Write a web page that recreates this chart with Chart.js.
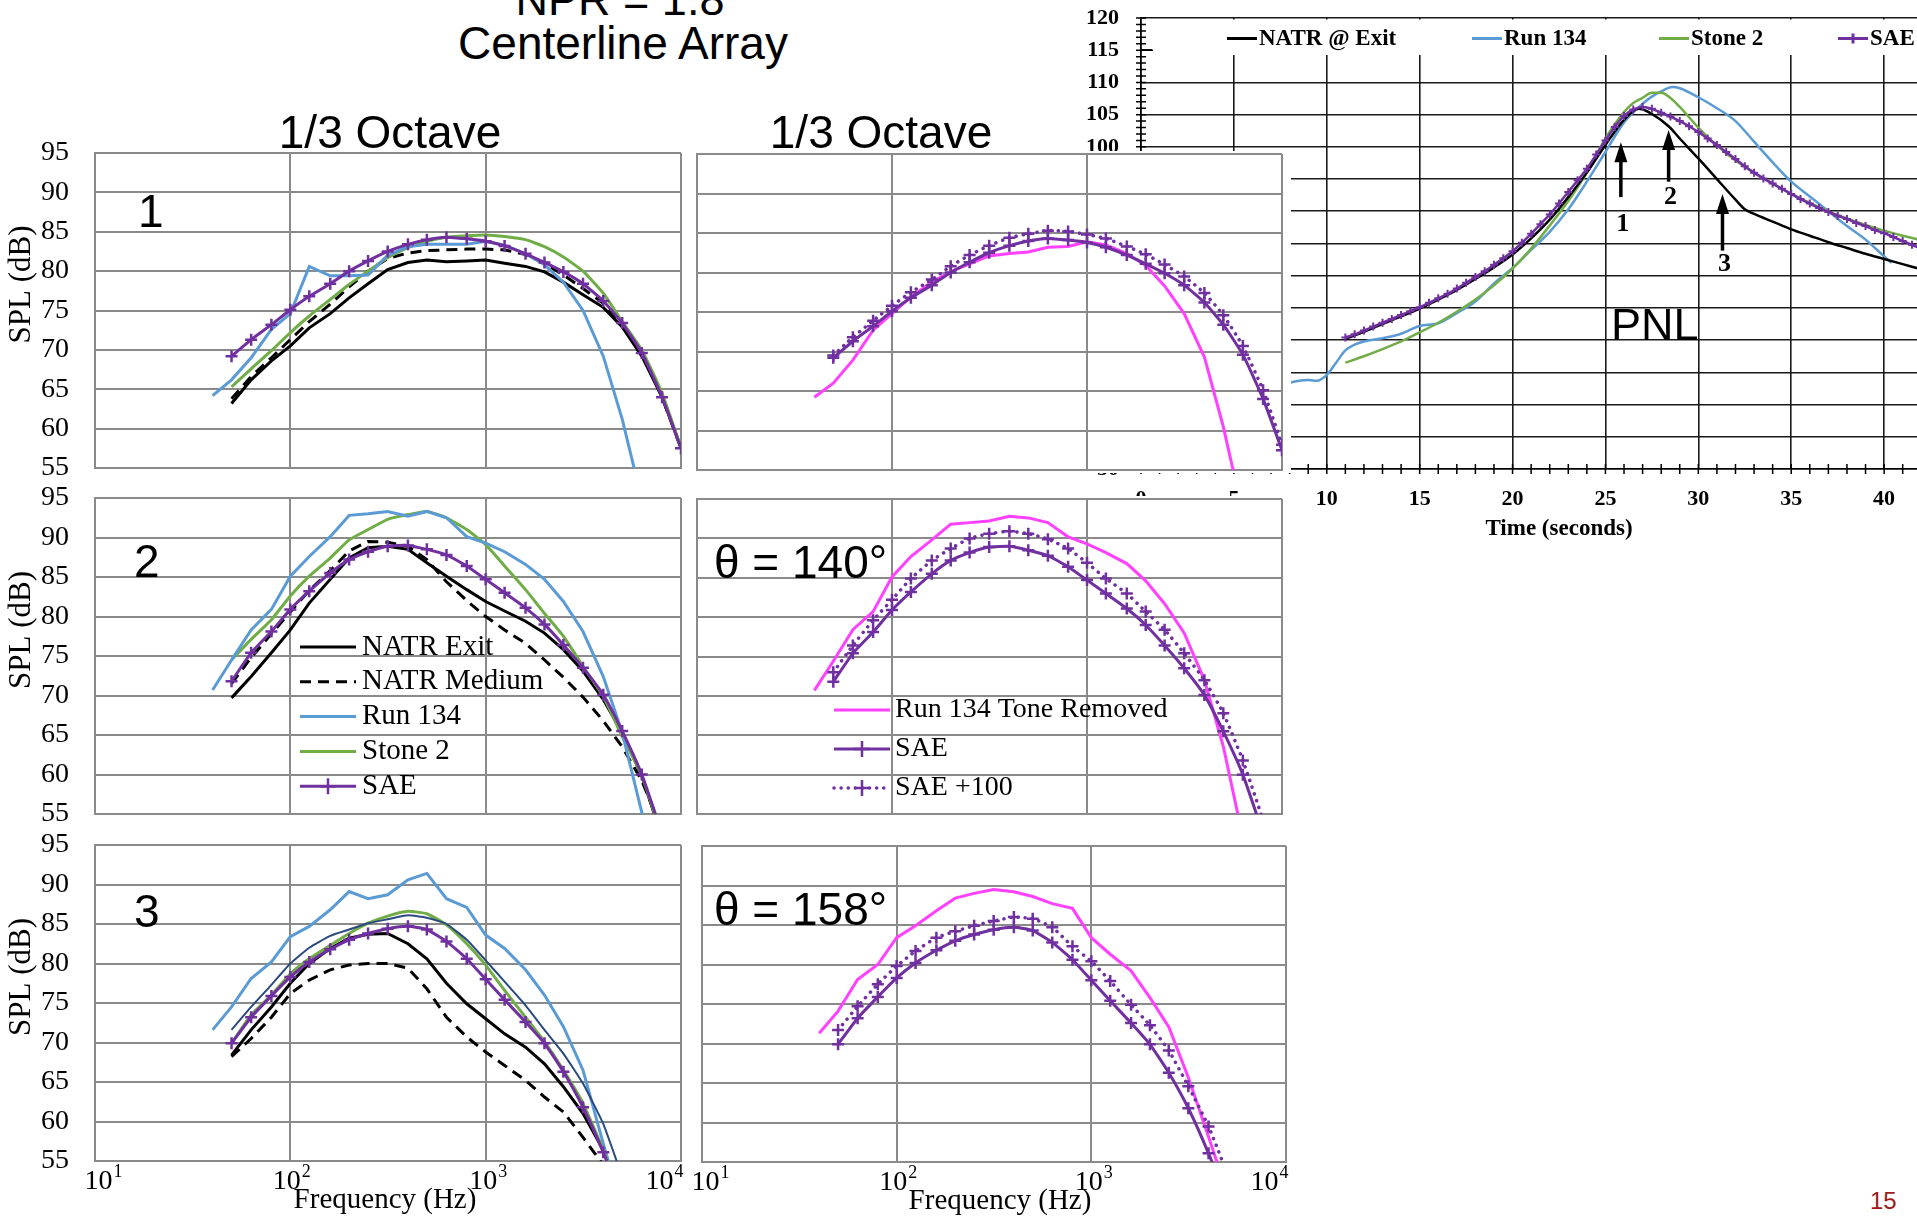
<!DOCTYPE html>
<html>
<head>
<meta charset="utf-8">
<title>NPR = 1.8 Centerline Array</title>
<script src="https://cdn.jsdelivr.net/npm/chart.js@4.4.1/dist/chart.umd.min.js"></script>
<style>
  html, body { margin: 0; padding: 0; background: #fff; overflow: hidden; }
  #page { position: relative; width: 1917px; height: 1217px; overflow: hidden; background: #fff; }
  canvas { position: absolute; }
  .txt { position: absolute; white-space: nowrap; line-height: 1; color: #000; z-index: 5;
         font-family: "Liberation Sans", Arial, sans-serif; }
</style>
</head>
<body>
<div id="page">
  <canvas id="pnl" width="1000" height="560" style="left:1040px;top:0px;z-index:1"></canvas>
  <canvas id="p1" width="692" height="351" style="left:0px;top:135px;z-index:2"></canvas>
  <canvas id="p2" width="607" height="352" style="left:687px;top:136px;z-index:2"></canvas>
  <canvas id="p3" width="692" height="352" style="left:0px;top:480px;z-index:2"></canvas>
  <canvas id="p4" width="607" height="351" style="left:687px;top:481px;z-index:2"></canvas>
  <canvas id="p5" width="692" height="394" style="left:0px;top:827px;z-index:2"></canvas>
  <canvas id="p6" width="606" height="394" style="left:692px;top:828px;z-index:2"></canvas>

  <div class="txt" style="left:620px;top:-23px;font-size:45px;transform:translateX(-50%)">NPR = 1.8</div>
  <div class="txt" style="left:623px;top:20px;font-size:46px;transform:translateX(-50%)">Centerline Array</div>
  <div class="txt" style="left:390px;top:109px;font-size:46px;transform:translateX(-50%)">1/3 Octave</div>
  <div class="txt" style="left:881px;top:109px;font-size:46px;transform:translateX(-50%)">1/3 Octave</div>
  <div class="txt" style="left:1870px;top:1189px;font-size:24px;color:#9b1b1b">15</div>
</div>

<script>
const SERIF = '"Liberation Serif", "Times New Roman", serif';
const SANS = '"Liberation Sans", Arial, sans-serif';
const BLUE = '#5b9bd5';
const GREEN = '#70ad47';
const PURPLE = '#7030a0';
const MAGENTA = '#ff40ff';
const NAVY = '#2a4a7f';
const GRID = '#8a8a8a';

// 1/3-octave band centres (Hz) and the decade ticks of the frequency axis
const BANDS = [40, 50, 63, 80, 100, 125, 160, 200, 250, 315, 400, 500, 630,
               800, 1000, 1250, 1600, 2000, 2500, 3150, 4000, 5000, 6300, 8000, 10000];
const DECADES = [10, 100, 1000, 10000];
const DECADE_SHIFT = [8, 1, 2, -17];

// point 1
const exit1   = [null, 63.2, 66.2, 68.6, 70.5, 72.8, 74.6, 76.6, 78.4, 80.2, 81.1, 81.4, 81.2, 81.3, 81.4, 81.0, 80.6, 79.9, 78.6, 77.0, 75.4, 72.9, 69.2, 64.0, 57.6];
const medium1 = [null, 63.8, 66.6, 69.0, 71.3, 73.6, 75.8, 78.0, 80.0, 81.6, 82.3, 82.6, 82.7, 82.8, 82.8, 82.7, 82.1, 81.0, 79.5, 77.8, 75.9, 73.2, 69.6, 64.0, 57.5];
const run1    = [64.2, 66.2, 69.0, 72.6, 74.6, 80.6, 79.4, 79.4, 79.5, 82.0, 83.1, 83.4, 83.4, 83.4, 83.8, 83.3, 82.2, 80.8, 78.6, 75.0, 69.2, 61.2, 51.0, null, null];
const stone1  = [null, 65.3, 67.6, 69.9, 72.2, 74.3, 76.4, 78.3, 80.0, 81.7, 83.0, 83.8, 84.3, 84.5, 84.6, 84.4, 84.0, 83.1, 81.8, 80.0, 77.2, 73.6, 70.0, 64.5, 57.6];
const sae1    = [null, 69.2, 71.3, 73.2, 75.1, 76.8, 78.4, 80.0, 81.3, 82.5, 83.4, 84.0, 84.3, 84.1, 83.8, 83.2, 82.2, 81.1, 79.9, 78.4, 76.2, 73.4, 69.6, 64.0, 57.5];
const tone1   = [64.2, 66.0, 68.9, 72.7, 74.8, 76.9, 78.8, 80.1, 81.1, 82.1, 82.4, 82.6, 83.2, 83.3, 83.9, 83.5, 82.4, 80.9, 78.3, 74.8, 69.3, 60.5, 49.5, null, null];
const saePlus1 = [null, 69.5, 71.8, 73.9, 75.8, 77.5, 79.1, 80.8, 82.2, 83.4, 84.4, 84.9, 85.3, 85.2, 84.8, 84.3, 83.3, 82.3, 81.0, 79.5, 77.4, 74.6, 70.7, 65.1, 58.2];

// point 2, theta = 140 deg
const exit2   = [null, 69.7, 72.4, 75.4, 78.3, 81.7, 84.7, 87.4, 88.7, 88.9, 88.5, 86.8, 85.1, 83.4, 81.9, 80.7, 79.4, 77.9, 75.8, 73.1, 69.5, 65.3, 59.8, 52.0, null];
const medium2 = [null, 71.5, 74.8, 77.8, 80.6, 83.3, 85.8, 88.3, 89.5, 89.4, 88.9, 87.2, 84.4, 82.0, 80.0, 78.3, 76.6, 74.5, 72.3, 69.8, 66.8, 63.5, 59.2, 53.0, null];
const run2    = [70.7, 74.5, 78.3, 80.9, 85.1, 87.6, 90.1, 92.8, 93.0, 93.3, 92.7, 93.3, 92.5, 90.1, 89.3, 88.2, 86.6, 84.7, 81.9, 78.1, 72.4, 65.3, 55.2, 45.0, null];
const stone2  = [null, 74.5, 77.1, 79.6, 82.6, 85.1, 87.4, 89.7, 91.0, 92.3, 92.9, 93.3, 92.5, 91.0, 89.1, 86.4, 83.4, 80.4, 77.5, 73.7, 69.9, 64.8, 59.9, 52.0, null];
const sae2    = [null, 71.8, 75.4, 78.1, 80.9, 83.2, 85.5, 87.2, 88.2, 88.9, 89.0, 88.5, 87.8, 86.4, 84.7, 83.0, 81.1, 79.0, 76.4, 73.5, 70.1, 65.5, 60.0, 52.5, null];
const tone2   = [70.7, 74.4, 78.4, 80.7, 85.1, 87.7, 89.8, 91.8, 92.0, 92.2, 92.8, 92.6, 92.0, 90.2, 89.3, 88.2, 86.8, 84.6, 81.7, 78.0, 72.0, 63.6, 52.0, null, null];
const saePlus2 = [null, 73.0, 76.4, 79.6, 82.2, 84.9, 87.2, 88.7, 90.0, 90.6, 90.9, 90.6, 89.9, 88.7, 86.9, 84.9, 83.0, 80.7, 78.4, 75.4, 72.0, 67.8, 61.8, 54.2, null];

// point 3, theta = 158 deg
const exit3   = [null, 68.4, 71.6, 74.5, 77.5, 80.0, 81.9, 83.2, 83.7, 83.8, 82.5, 80.6, 77.5, 74.9, 73.0, 71.1, 69.4, 67.3, 64.4, 61.0, 56.4, 50.0, null, null, null];
const medium3 = [null, 68.2, 70.5, 73.2, 76.2, 77.9, 79.2, 79.8, 80.0, 80.0, 79.4, 76.8, 73.2, 70.7, 68.8, 67.1, 65.2, 63.1, 61.2, 58.0, 54.5, 49.0, null, null, null];
const run3    = [71.6, 74.5, 78.1, 80.2, 83.4, 84.7, 86.8, 89.1, 88.2, 88.7, 90.6, 91.4, 88.2, 87.1, 83.6, 81.9, 79.2, 76.0, 72.0, 66.5, 57.2, 49.0, null, null, null];
const stone3  = [null, 69.9, 73.5, 76.0, 78.7, 80.6, 82.3, 83.8, 85.1, 86.0, 86.6, 86.3, 84.9, 82.5, 79.8, 76.6, 73.2, 70.1, 66.5, 62.3, 56.4, 50.0, null, null, null];
const navy3   = [null, 71.6, 74.5, 77.3, 80.0, 82.0, 83.5, 84.3, 85.1, 85.6, 86.1, 85.8, 85.0, 83.0, 80.4, 77.7, 74.7, 71.6, 68.6, 64.8, 59.7, 53.0, null, null, null];
const sae3    = [null, 69.9, 73.2, 75.9, 78.3, 80.2, 81.8, 83.0, 83.8, 84.4, 84.7, 84.3, 82.8, 80.6, 78.0, 75.4, 72.6, 69.9, 66.3, 61.8, 56.1, 50.0, null, null, null];
const tone3   = [71.3, 74.1, 78.1, 80.0, 83.4, 84.9, 86.8, 88.4, 89.0, 89.5, 89.2, 88.6, 87.7, 87.1, 83.4, 81.3, 79.2, 75.8, 72.1, 65.7, 58.2, 51.0, null, null, null];
const saePlus3 = [null, 71.7, 74.7, 77.5, 79.8, 81.7, 83.4, 84.2, 84.9, 85.5, 86.0, 85.8, 84.7, 82.3, 80.4, 77.9, 74.9, 72.3, 69.1, 64.6, 59.5, 53.5, null, null, null];

// PNL time histories
const pnlSaeT = [11, 11.5, 12, 12.5, 13, 13.5, 14, 14.5, 15, 15.5, 16, 16.5, 17, 17.5, 18, 18.5, 19, 19.5, 20, 20.5,
                 21, 21.5, 22, 22.5, 23, 23.5, 24, 24.5, 25, 25.5, 26, 26.5, 27, 27.5, 28, 28.5, 29, 29.5, 30, 30.5,
                 31, 31.5, 32, 32.5, 33, 33.5, 34, 34.5, 35, 35.5, 36, 36.5, 37, 37.5, 38, 38.5, 39, 39.5, 40, 40.5,
                 41, 41.5, 42];
const pnlSae = [70.4, 70.9, 71.5, 72.1, 72.7, 73.3, 73.9, 74.5, 75.1, 75.8, 76.5, 77.2, 78.0, 78.9, 79.8, 80.7, 81.7, 82.7, 83.8, 85.1,
                86.5, 88.0, 89.5, 91.2, 93.0, 94.8, 96.6, 98.8, 101.0, 103.1, 104.8, 105.8, 106.2, 105.9, 105.3, 104.7, 104.0, 103.2, 102.3, 101.3,
                100.3, 99.2, 98.1, 97.0, 96.0, 95.1, 94.3, 93.5, 92.7, 91.9, 91.2, 90.5, 89.9, 89.3, 88.8, 88.2, 87.7, 87.1, 86.6, 86.0,
                85.4, 84.8, 84.2];
const pnlExitT = [11, 12, 13, 14, 15, 16, 17, 18, 19, 20, 21, 22, 23, 24, 25, 26, 26.8, 27.5, 28.4, 29,
                  30, 31, 32, 32.5, 33, 34, 35, 36, 37, 38, 39, 40, 41, 42];
const pnlExit = [70.2, 71.3, 72.5, 73.7, 74.9, 76.3, 77.8, 79.5, 81.3, 83.3, 85.8, 88.7, 92.2, 96.0, 100.3, 104.2, 105.9, 105.1, 103.2, 101.3,
                 98.2, 95.0, 91.8, 90.3, 89.6, 88.4, 87.2, 86.2, 85.2, 84.3, 83.4, 82.6, 81.8, 81.0];
const pnlStoneT = [11, 12, 13, 14, 15, 16, 17, 18, 19, 20, 21, 22, 23, 24, 25, 26, 26.5, 27, 27.5, 28, 28.5, 29,
                   30, 31, 32, 33, 34, 35, 36, 37, 38, 39, 40, 41, 42];
const pnlStone = [66.5, 67.5, 68.6, 69.8, 71.2, 72.7, 74.4, 76.3, 78.5, 81.1, 84.2, 87.8, 91.6, 96.0, 101.3, 105.4, 106.8, 107.6, 108.4, 108.4, 107.6, 106.2,
                  103.0, 100.2, 97.9, 96.0, 94.3, 92.7, 91.3, 90.0, 88.9, 87.9, 87.0, 86.2, 85.5];
const pnlRunT = [8, 8.5, 9, 9.5, 10, 10.5, 11, 11.5, 12, 13, 14, 15, 16, 17, 18, 19, 20, 21, 22, 23, 24, 25, 26, 27,
                 27.5, 28, 28.6, 29, 30, 31, 32, 33, 34, 35, 36, 37, 38, 39, 40, 40.4];
const pnlRun = [63.4, 63.7, 63.8, 63.7, 64.6, 66.5, 68.4, 69.3, 69.8, 70.3, 71.0, 72.2, 72.6, 74.2, 76.0, 78.8, 81.2, 84.0, 86.8, 90.3, 94.6, 99.2, 103.8, 106.7,
                107.8, 108.6, 109.3, 109.1, 107.7, 106.0, 104.0, 100.8, 97.6, 94.6, 92.3, 90.0, 87.7, 85.6, 83.0, 82.0];

// arrows marking the three spectra on the PNL curve
const arrowTime = [25.83, 28.4, 31.3];
const arrowFrom = [92.2, 94.6, 83.9];
const arrowTo = [100.7, 102.6, 92.7];
const arrowText = ['1', '2', '3'];
const arrowTextAt = [88.0, 92.2, 81.7];

const pnlKeys = ['NATR @ Exit', 'Run 134', 'Stone 2', 'SAE'];
const pnlKeyColors = ['#000000', BLUE, GREEN, PURPLE];
const pnlKeyX = [86, 331, 518, 697];

function series(vals) {
  return BANDS.map((f, i) => ({ x: f, y: vals[i] })).filter(p => p.y !== null);
}
function pts(ts, vs) {
  return ts.map((t, i) => ({ x: t, y: vs[i] }));
}

const S_EXIT = { borderColor: '#000000', borderWidth: 3 };
const S_MED = { borderColor: '#000000', borderWidth: 3, borderDash: [11, 7] };
const S_RUN = { borderColor: BLUE, borderWidth: 3 };
const S_STONE = { borderColor: GREEN, borderWidth: 3, tension: 0.15 };
const S_NAVY = { borderColor: NAVY, borderWidth: 2, tension: 0.15 };
const S_TONE = { borderColor: MAGENTA, borderWidth: 3 };
const S_SAE = { borderColor: PURPLE, borderWidth: 3, pointStyle: 'cross', pointRadius: 6,
                pointBorderWidth: 2.5, pointBorderColor: PURPLE, tension: 0.15 };
const S_SAE100 = { borderColor: PURPLE, borderWidth: 3.5, borderDash: [0.1, 7], borderCapStyle: 'round',
                   pointStyle: 'cross', pointRadius: 6, pointBorderWidth: 2.5, pointBorderColor: PURPLE, tension: 0.15 };

function ds(label, vals, style) {
  return Object.assign({ label, data: series(vals), fill: false, pointRadius: 0, tension: 0 }, style);
}

const LEGEND_LEFT = {
  x0: 205, x1: 261, tx: 267, y0: 149, dy: 34.8, size: 29,
  items: [['NATR Exit', S_EXIT], ['NATR Medium', S_MED], ['Run 134', S_RUN], ['Stone 2', S_STONE], ['SAE', S_SAE]]
};
const LEGEND_RIGHT = {
  x0: 137, x1: 193, tx: 198, y0: 211, dy: 39, size: 28,
  items: [['Run 134 Tone Removed', S_TONE], ['SAE', S_SAE], ['SAE +100', S_SAE100]]
};

// white plot background, panel tag, axis labels and legends of the spectrum panels
const panelDecor = {
  id: 'panelDecor',
  beforeDraw(chart) {
    const { ctx, chartArea: a } = chart;
    ctx.save();
    ctx.fillStyle = '#ffffff';
    ctx.fillRect(a.left - 2, a.top - 3, a.right - a.left + 11, a.bottom - a.top + 6);
    ctx.restore();
  },
  afterDraw(chart, args, o) {
    const { ctx, chartArea: a, scales } = chart;
    ctx.save();
    ctx.fillStyle = '#000';
    if (o.tag) {
      ctx.font = '46px ' + SANS;
      ctx.textAlign = 'left';
      ctx.textBaseline = 'alphabetic';
      ctx.fillText(o.tag, a.left + o.tagX, a.top + o.tagY);
    }
    if (o.yTitle) {
      ctx.save();
      ctx.translate(22, (a.top + a.bottom) / 2 - 26);
      ctx.rotate(-Math.PI / 2);
      ctx.font = '31px ' + SERIF;
      ctx.textAlign = 'center';
      ctx.textBaseline = 'middle';
      ctx.fillText('SPL (dB)', 0, 0);
      ctx.restore();
    }
    if (o.xLabels) {
      ctx.textAlign = 'left';
      ctx.textBaseline = 'alphabetic';
      DECADES.forEach((v, i) => {
        const px = scales.x.getPixelForValue(v) + DECADE_SHIFT[i];
        const exp = String(Math.round(Math.log10(v)));
        ctx.font = '28px ' + SERIF;
        const w1 = ctx.measureText('10').width;
        ctx.font = '18px ' + SERIF;
        const w2 = ctx.measureText(exp).width;
        const x0 = px - (w1 + w2) / 2;
        ctx.font = '28px ' + SERIF;
        ctx.fillText('10', x0, a.bottom + 28);
        ctx.font = '18px ' + SERIF;
        ctx.fillText(exp, x0 + w1 + 1, a.bottom + 16);
      });
      ctx.font = '29px ' + SERIF;
      ctx.textAlign = 'center';
      ctx.fillText('Frequency (Hz)', (a.left + a.right) / 2 + o.titleDx, a.bottom + 47);
    }
    if (o.legend) {
      const L = o.legend;
      L.items.forEach(([label, st], i) => {
        const y = a.top + L.y0 + i * L.dy;
        const x0 = a.left + L.x0, x1 = a.left + L.x1;
        ctx.save();
        ctx.strokeStyle = st.borderColor;
        ctx.lineWidth = st.borderWidth;
        ctx.setLineDash(st.borderDash || []);
        ctx.lineCap = st.borderCapStyle || 'butt';
        ctx.beginPath();
        ctx.moveTo(x0, y);
        ctx.lineTo(x1, y);
        ctx.stroke();
        if (st.pointStyle === 'cross') {
          const xm = (x0 + x1) / 2;
          ctx.setLineDash([]);
          ctx.lineCap = 'butt';
          ctx.lineWidth = 2.5;
          ctx.beginPath();
          ctx.moveTo(xm - 8, y); ctx.lineTo(xm + 8, y);
          ctx.moveTo(xm, y - 8); ctx.lineTo(xm, y + 8);
          ctx.stroke();
        }
        ctx.restore();
        ctx.fillStyle = '#000';
        ctx.font = L.size + 'px ' + SERIF;
        ctx.textAlign = 'left';
        ctx.textBaseline = 'middle';
        ctx.fillText(label, a.left + L.tx, y);
      });
    }
    ctx.restore();
  }
};

// keep the tick-label overhang from shrinking the plot area
function noOverhang(s) {
  s.paddingTop = 0;
  s.paddingBottom = 0;
  s.paddingLeft = 0;
  s.paddingRight = 0;
}

function panel(id, left, bottom, datasets, deco) {
  return new Chart(document.getElementById(id), {
    type: 'line',
    data: { datasets },
    options: {
      responsive: false,
      animation: false,
      events: [],
      layout: { padding: { left: left ? 0 : 10, right: left ? 11 : 12, top: 18, bottom: bottom ? 60 : 18 } },
      plugins: { legend: { display: false }, tooltip: { enabled: false }, panelDecor: deco },
      scales: {
        x: {
          type: 'logarithmic', min: 10, max: 10000,
          afterBuildTicks: s => { s.ticks = DECADES.map(v => ({ value: v })); },
          afterFit: s => { s.height = 0; noOverhang(s); },
          ticks: { display: false },
          grid: { color: GRID, lineWidth: 2, drawTicks: false },
          border: { color: GRID, width: 2 }
        },
        y: {
          min: 55, max: 95,
          afterFit: s => { s.width = left ? 95 : 0; noOverhang(s); },
          ticks: { display: left, stepSize: 5, padding: 26, color: '#000', font: { family: SERIF, size: 28 } },
          grid: { color: GRID, lineWidth: 2, drawTicks: false },
          border: { color: GRID, width: 2 }
        }
      }
    },
    plugins: [panelDecor]
  });
}

panel('p1', true, false, [
  ds('SAE', sae1, S_SAE), ds('Run 134', run1, S_RUN), ds('Stone 2', stone1, S_STONE),
  ds('NATR Exit', exit1, S_EXIT), ds('NATR Medium', medium1, S_MED)
], { tag: '1', tagX: 43, tagY: 74, yTitle: true });

panel('p2', false, false, [
  ds('SAE', sae1, S_SAE), ds('SAE +100', saePlus1, S_SAE100), ds('Run 134 Tone Removed', tone1, S_TONE)
], {});

panel('p3', true, false, [
  ds('SAE', sae2, S_SAE), ds('Run 134', run2, S_RUN), ds('Stone 2', stone2, S_STONE),
  ds('NATR Exit', exit2, S_EXIT), ds('NATR Medium', medium2, S_MED)
], { tag: '2', tagX: 39, tagY: 79, yTitle: true, legend: LEGEND_LEFT });

panel('p4', false, false, [
  ds('SAE', sae2, S_SAE), ds('SAE +100', saePlus2, S_SAE100), ds('Run 134 Tone Removed', tone2, S_TONE)
], { tag: '\u03b8 = 140\u00b0', tagX: 17, tagY: 79, legend: LEGEND_RIGHT });

panel('p5', true, true, [
  ds('SAE', sae3, S_SAE), ds('', navy3, S_NAVY), ds('Stone 2', stone3, S_STONE), ds('Run 134', run3, S_RUN),
  ds('NATR Exit', exit3, S_EXIT), ds('NATR Medium', medium3, S_MED)
], { tag: '3', tagX: 39, tagY: 82, yTitle: true, xLabels: true, titleDx: -3 });

panel('p6', false, true, [
  ds('SAE', sae3, S_SAE), ds('SAE +100', saePlus3, S_SAE100), ds('Run 134 Tone Removed', tone3, S_TONE)
], { tag: '\u03b8 = 158\u00b0', tagX: 12, tagY: 79, xLabels: true, titleDx: 6 });

// PNL chart: legend strip, axis minor ticks, arrows and label
const pnlDecor = {
  id: 'pnlDecor',
  beforeDatasetsDraw(chart) {
    const { ctx, chartArea: a } = chart;
    ctx.save();
    ctx.fillStyle = '#ffffff';
    ctx.fillRect(a.left + 11, a.top + 1.5, a.right - a.left, 35.5);
    pnlKeys.forEach((k, i) => {
      const x0 = a.left + pnlKeyX[i], x1 = x0 + 30, y = a.top + 20.5;
      ctx.strokeStyle = pnlKeyColors[i];
      ctx.lineWidth = 3;
      ctx.beginPath();
      ctx.moveTo(x0, y); ctx.lineTo(x1, y);
      if (k === 'SAE') {
        ctx.moveTo(x0 + 15, y - 5); ctx.lineTo(x0 + 15, y + 5);
      }
      ctx.stroke();
      ctx.fillStyle = '#000';
      ctx.font = 'bold 23px ' + SERIF;
      ctx.textAlign = 'left';
      ctx.textBaseline = 'middle';
      ctx.fillText(k, x1 + 2, y + 1);
    });
    ctx.restore();
  },
  afterDatasetsDraw(chart) {
    const { ctx, chartArea: a, scales } = chart;
    const xs = scales.x, ys = scales.y;
    ctx.save();
    ctx.strokeStyle = '#000';
    ctx.lineWidth = 1.5;
    ctx.beginPath();
    for (let t = xs.min; t <= xs.max; t += 1) {
      const px = xs.getPixelForValue(t);
      ctx.moveTo(px, a.bottom - 5); ctx.lineTo(px, a.bottom + 5);
    }
    for (let v = ys.min; v <= ys.max; v += 1) {
      const py = ys.getPixelForValue(v);
      ctx.moveTo(a.left - 5, py); ctx.lineTo(a.left + (v === 115 ? 12 : 5), py);
    }
    ctx.stroke();

    ctx.fillStyle = '#000';
    arrowTime.forEach((t, i) => {
      const x = xs.getPixelForValue(t);
      const yb = ys.getPixelForValue(arrowFrom[i]);
      const yt = ys.getPixelForValue(arrowTo[i]);
      ctx.lineWidth = 3.5;
      ctx.beginPath();
      ctx.moveTo(x, yb); ctx.lineTo(x, yt + 16);
      ctx.stroke();
      ctx.beginPath();
      ctx.moveTo(x, yt); ctx.lineTo(x - 6.5, yt + 20); ctx.lineTo(x + 6.5, yt + 20);
      ctx.closePath();
      ctx.fill();
      ctx.font = 'bold 26px ' + SERIF;
      ctx.textAlign = 'center';
      ctx.textBaseline = 'middle';
      ctx.fillText(arrowText[i], x + 2, ys.getPixelForValue(arrowTextAt[i]));
    });

    ctx.font = '45px ' + SANS;
    ctx.textAlign = 'left';
    ctx.textBaseline = 'alphabetic';
    ctx.fillText('PNL', xs.getPixelForValue(25.3), ys.getPixelForValue(70.0));
    ctx.restore();
  }
};

new Chart(document.getElementById('pnl'), {
  type: 'line',
  data: {
    datasets: [
      { label: 'SAE', data: pts(pnlSaeT, pnlSae), borderColor: PURPLE, borderWidth: 2.5, pointStyle: 'cross',
        pointRadius: 4, pointBorderWidth: 2, pointBorderColor: PURPLE, cubicInterpolationMode: 'monotone', fill: false },
      { label: 'NATR @ Exit', data: pts(pnlExitT, pnlExit), borderColor: '#000000', borderWidth: 2.5, pointRadius: 0,
        cubicInterpolationMode: 'monotone', fill: false },
      { label: 'Stone 2', data: pts(pnlStoneT, pnlStone), borderColor: GREEN, borderWidth: 2.5, pointRadius: 0,
        cubicInterpolationMode: 'monotone', fill: false },
      { label: 'Run 134', data: pts(pnlRunT, pnlRun), borderColor: BLUE, borderWidth: 2.5, pointRadius: 0,
        cubicInterpolationMode: 'monotone', fill: false }
    ]
  },
  options: {
    responsive: false,
    animation: false,
    events: [],
    layout: { padding: { left: 0, top: 18, right: 63, bottom: 0 } },
    plugins: { legend: { display: false }, tooltip: { enabled: false } },
    scales: {
      x: {
        type: 'linear', min: 0, max: 45,
        afterFit: s => { s.height = 91; noOverhang(s); },
        ticks: { stepSize: 5, padding: 17, color: '#000', font: { family: SERIF, size: 22, weight: 'bold' } },
        grid: { color: '#1a1a1a', lineWidth: 1.6, drawTicks: false },
        border: { color: '#000', width: 1.6 },
        title: { display: true, text: 'Time (seconds)', color: '#000',
                 font: { family: SERIF, size: 23, weight: 'bold' }, padding: { top: 0, bottom: 17 } }
      },
      y: {
        min: 50, max: 120,
        afterFit: s => { s.width = 101; noOverhang(s); },
        ticks: { stepSize: 5, padding: 22, color: '#000', font: { family: SERIF, size: 22, weight: 'bold' } },
        grid: { color: '#1a1a1a', lineWidth: 1.6, drawTicks: false },
        border: { color: '#000', width: 1.6 }
      }
    }
  },
  plugins: [pnlDecor]
});
</script>
</body>
</html>
